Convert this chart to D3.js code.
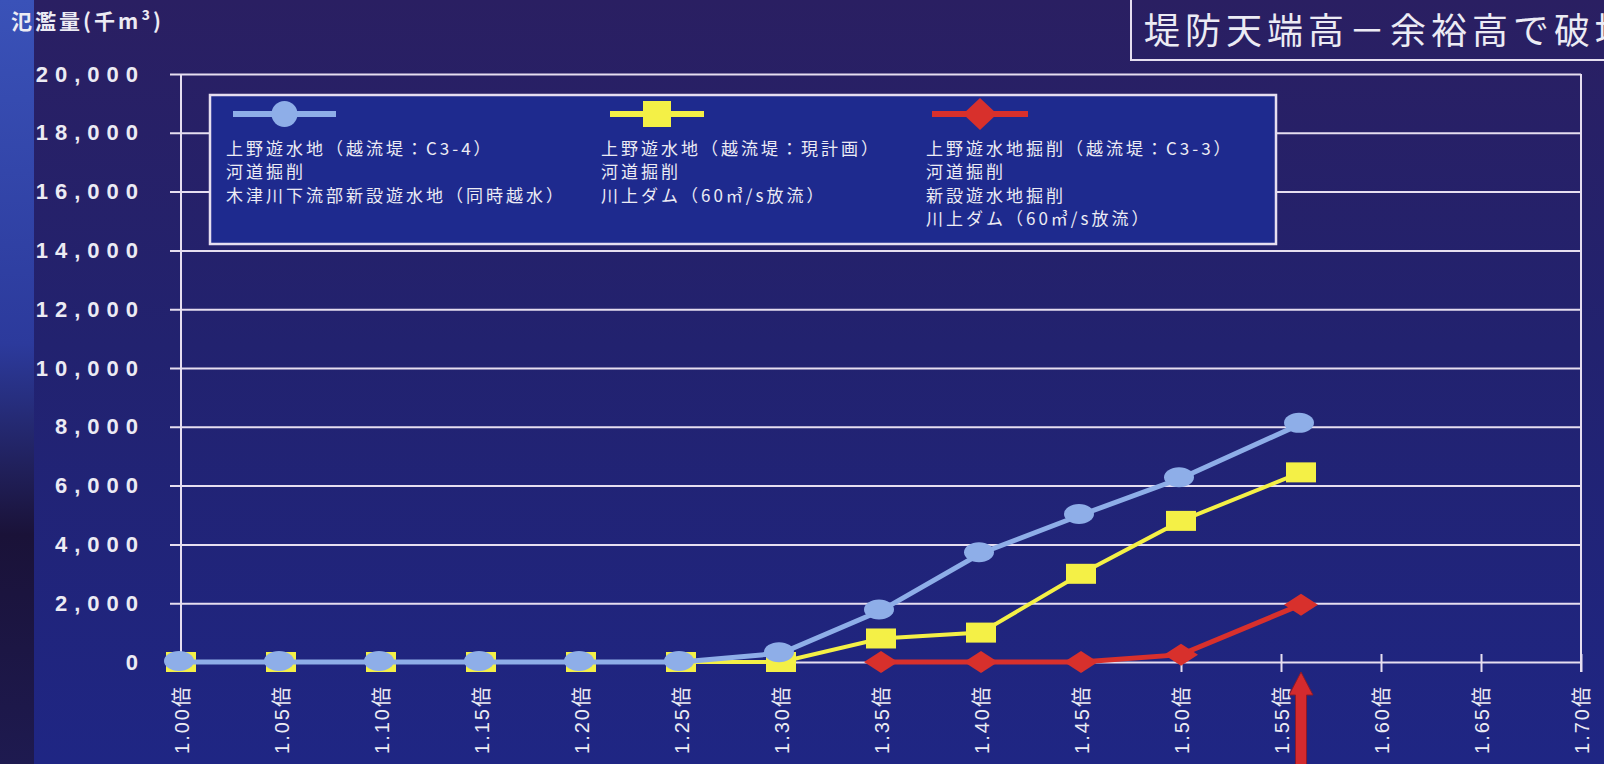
<!DOCTYPE html>
<html>
<head>
<meta charset="utf-8">
<script src="https://cdn.jsdelivr.net/npm/d3@7"></script>
<style>
body { margin: 0; background: #211f6c; overflow: hidden; }
svg { display: block; }
</style>
</head>
<body>
<svg id="chart" width="1604" height="764"></svg>
<script>
// data
var xValues = [1.00, 1.05, 1.10, 1.15, 1.20, 1.25, 1.30, 1.35, 1.40, 1.45, 1.50, 1.56];
var blueValues = [0, 0, 0, 0, 0, 0, 300, 1750, 3700, 5000, 6250, 8100];
var yellowValues = [0, 0, 0, 0, 0, 0, 0, 800, 1000, 3000, 4800, 6450];
var redValues = [null, null, null, null, null, null, null, 0, 0, 0, 250, 1950];

var xTickValues = [1.00, 1.05, 1.10, 1.15, 1.20, 1.25, 1.30, 1.35, 1.40, 1.45, 1.50, 1.55, 1.60, 1.65, 1.70];
var xTickLabels = ["1.00倍", "1.05倍", "1.10倍", "1.15倍", "1.20倍", "1.25倍", "1.30倍", "1.35倍",
                   "1.40倍", "1.45倍", "1.50倍", "1.55倍", "1.60倍", "1.65倍", "1.70倍"];
var yTickValues = [0, 2000, 4000, 6000, 8000, 10000, 12000, 14000, 16000, 18000, 20000];
var yTickLabels = ["0", "2,000", "4,000", "6,000", "8,000", "10,000", "12,000", "14,000", "16,000", "18,000", "20,000"];

var legendBlue = ["上野遊水地（越流堤：C3-4）", "河道掘削", "木津川下流部新設遊水地（同時越水）"];
var legendYellow = ["上野遊水地（越流堤：現計画）", "河道掘削", "川上ダム（60㎥/s放流）"];
var legendRed = ["上野遊水地掘削（越流堤：C3-3）", "河道掘削", "新設遊水地掘削", "川上ダム（60㎥/s放流）"];

var yTitle = "氾濫量(千m³)";
var headline = "堤防天端高－余裕高で破堤";
var arrowAt = 1.56;

var blue = "#8eaee8", yellow = "#f4f046", red = "#d8302c";
var gridColor = "#e6def0";
var textColor = "#ecebf4";
var latin = "'Liberation Sans', 'Noto Sans CJK JP', sans-serif";
var cjk = "'Noto Sans CJK JP', sans-serif";

var svg = d3.select("#chart");
var plotLeft = 181, plotRight = 1581, plotTop = 74, plotBottom = 662;

var x = d3.scaleLinear().domain([1.0, 1.7]).range([plotLeft, plotRight]);
var y = d3.scaleLinear().domain([0, 20000]).range([plotBottom, plotTop]);

// background
var defs = svg.append("defs");
var bg = defs.append("linearGradient").attr("id", "bg").attr("x1", 0).attr("y1", 0).attr("x2", 0).attr("y2", 1);
bg.append("stop").attr("offset", "0%").attr("stop-color", "#2a1f62");
bg.append("stop").attr("offset", "45%").attr("stop-color", "#22226f");
bg.append("stop").attr("offset", "100%").attr("stop-color", "#1f2684");
var strip = defs.append("linearGradient").attr("id", "strip").attr("x1", 0).attr("y1", 0).attr("x2", 0).attr("y2", 1);
strip.append("stop").attr("offset", "0%").attr("stop-color", "#3a52b8");
strip.append("stop").attr("offset", "45%").attr("stop-color", "#2c3a9c");
strip.append("stop").attr("offset", "70%").attr("stop-color", "#1a1238");
strip.append("stop").attr("offset", "100%").attr("stop-color", "#1e1a50");

svg.append("rect").attr("width", 1604).attr("height", 764).attr("fill", "url(#bg)");
svg.append("rect").attr("width", 34).attr("height", 764).attr("fill", "url(#strip)");

// headline box (cut off at the right edge)
svg.append("rect")
    .attr("x", 1131).attr("y", -4).attr("width", 500).attr("height", 64)
    .attr("fill", "none").attr("stroke", gridColor).attr("stroke-width", 2);
svg.append("text")
    .attr("x", 1144).attr("y", 44)
    .attr("fill", textColor)
    .style("font-family", cjk).style("font-size", "36px").style("letter-spacing", "5px")
    .text(headline);

// y title
svg.append("text")
    .attr("x", 11).attr("y", 29)
    .attr("fill", textColor)
    .style("font-family", cjk).style("font-weight", "bold").style("font-size", "21px").style("letter-spacing", "3px")
    .text(yTitle);

// grid + y axis
var yAxis = svg.append("g")
    .attr("transform", "translate(170,0)")
    .call(d3.axisLeft(y)
        .tickValues(yTickValues)
        .tickFormat(function(d, i) { return yTickLabels[i]; })
        .tickSize(-(plotRight - 170))
        .tickPadding(25));
yAxis.select(".domain").remove();
yAxis.selectAll(".tick line").attr("stroke", gridColor).attr("stroke-width", 2);
yAxis.selectAll(".tick text")
    .attr("fill", textColor)
    .style("font-family", latin).style("font-weight", "bold").style("font-size", "22px").style("letter-spacing", "7px");

svg.append("line").attr("x1", plotLeft).attr("x2", plotLeft).attr("y1", plotTop).attr("y2", plotBottom)
    .attr("stroke", gridColor).attr("stroke-width", 2);
svg.append("line").attr("x1", plotRight).attr("x2", plotRight).attr("y1", plotTop).attr("y2", plotBottom + 10)
    .attr("stroke", gridColor).attr("stroke-width", 2);

// x axis
var xAxis = svg.append("g")
    .attr("transform", "translate(0," + plotBottom + ")")
    .call(d3.axisBottom(x)
        .tickValues(xTickValues)
        .tickFormat(function(d, i) { return xTickLabels[i]; })
        .tickSize(10));
xAxis.select(".domain").remove();
xAxis.selectAll(".tick line").attr("y1", -8).attr("stroke", gridColor).attr("stroke-width", 2);
xAxis.selectAll(".tick text")
    .attr("x", -23).attr("y", 0).attr("dy", "0.36em")
    .attr("transform", "rotate(-90)")
    .attr("text-anchor", "end")
    .attr("fill", textColor)
    .style("font-family", latin).style("font-size", "20px").style("letter-spacing", "2px");

// legend
var legend = svg.append("g");
legend.append("rect")
    .attr("x", 210).attr("y", 95).attr("width", 1066).attr("height", 149)
    .attr("fill", "#1e2a8e").attr("stroke", gridColor).attr("stroke-width", 2.5);

function legendColumn(lines, tx, lx1, lx2, color, shape) {
    legend.append("line")
        .attr("x1", lx1).attr("x2", lx2).attr("y1", 114).attr("y2", 114)
        .attr("stroke", color).attr("stroke-width", 6);
    var cx = (lx1 + lx2) / 2;
    if (shape == "circle") {
        legend.append("circle").attr("cx", cx).attr("cy", 114).attr("r", 13).attr("fill", color);
    } else if (shape == "square") {
        legend.append("rect").attr("x", cx - 14).attr("y", 101).attr("width", 28).attr("height", 26).attr("fill", color);
    } else {
        legend.append("path")
            .attr("d", "M" + cx + ",98 L" + (cx + 17) + ",114 L" + cx + ",130 L" + (cx - 17) + ",114 Z")
            .attr("fill", color);
    }
    lines.forEach(function(t, i) {
        legend.append("text")
            .attr("x", tx).attr("y", 155 + i * 23.3)
            .attr("fill", textColor)
            .style("font-family", cjk).style("font-size", "17px").style("letter-spacing", "3px")
            .text(t);
    });
}
legendColumn(legendBlue, 226, 233, 336, blue, "circle");
legendColumn(legendYellow, 601, 610, 704, yellow, "square");
legendColumn(legendRed, 926, 932, 1028, red, "diamond");

// series
function toPoints(values) {
    var pts = [];
    values.forEach(function(v, i) {
        if (v !== null) pts.push([xValues[i], v]);
    });
    return pts;
}

var line = d3.line()
    .x(function(d) { return x(d[0]); })
    .y(function(d) { return y(d[1]); });

var yellowPts = toPoints(yellowValues);
var bluePts = toPoints(blueValues);
var redPts = toPoints(redValues);

svg.append("path").datum(yellowPts).attr("d", line)
    .attr("fill", "none").attr("stroke", yellow).attr("stroke-width", 4);
svg.selectAll(".sq").data(yellowPts).enter().append("rect")
    .attr("class", "sq")
    .attr("x", function(d) { return x(d[0]) - 15; })
    .attr("y", function(d) { return y(d[1]) - 10; })
    .attr("width", 30).attr("height", 20)
    .attr("fill", yellow);

svg.append("path").datum(bluePts).attr("d", line)
    .attr("fill", "none").attr("stroke", blue).attr("stroke-width", 5);
svg.selectAll(".dot").data(bluePts).enter().append("ellipse")
    .attr("class", "dot")
    .attr("cx", function(d) { return x(d[0]) - 2; })
    .attr("cy", function(d) { return y(d[1]) - 1; })
    .attr("rx", 15).attr("ry", 10)
    .attr("fill", blue);

svg.append("path").datum(redPts).attr("d", line)
    .attr("fill", "none").attr("stroke", red).attr("stroke-width", 5);
svg.selectAll(".dia").data(redPts).enter().append("path")
    .attr("class", "dia")
    .attr("d", function(d) {
        var cx = x(d[0]), cy = y(d[1]);
        return "M" + cx + "," + (cy - 11) + " L" + (cx + 17) + "," + cy + " L" + cx + "," + (cy + 11) + " L" + (cx - 17) + "," + cy + " Z";
    })
    .attr("fill", red);

// red arrow pointing at the last case
var ax = x(arrowAt);
svg.append("path")
    .attr("d", "M" + ax + "," + (plotBottom + 10) +
        " L" + (ax + 12) + "," + (plotBottom + 33) +
        " L" + (ax + 5.5) + "," + (plotBottom + 33) +
        " L" + (ax + 5.5) + ",770" +
        " L" + (ax - 5.5) + ",770" +
        " L" + (ax - 5.5) + "," + (plotBottom + 33) +
        " L" + (ax - 12) + "," + (plotBottom + 33) + " Z")
    .attr("fill", "#d42a2e").attr("stroke", "#8a1a2a").attr("stroke-width", 1);
</script>
</body>
</html>
